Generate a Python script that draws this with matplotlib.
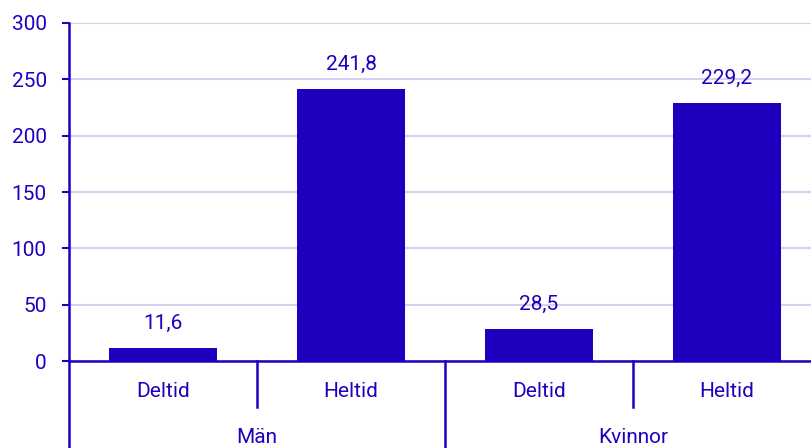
import matplotlib.pyplot as plt
from matplotlib.lines import Line2D

plt.rcParams['font.family'] = ['Roboto', 'DejaVu Sans']

groups = ['Män', 'Kvinnor']
kinds = ['Deltid', 'Heltid']
values = [11.6, 241.8, 28.5, 229.2]
labels = ['11,6', '241,8', '28,5', '229,2']
yticks = [0, 50, 100, 150, 200, 250, 300]

blue = '#2000BE'
grid = '#D4D0F0'
fs = 15

fig = plt.figure(figsize=(8.11, 4.48), dpi=100)
# axes reaches a bit beyond the right edge, like the reference
ax = fig.add_axes([69/811, 87/448, 752/811, 338/448])

x = range(len(values))
ax.bar(x, values, width=0.575, color=blue, zorder=3)
for i, (v, t) in enumerate(zip(values, labels)):
    ax.annotate(t, (i, v), xytext=(0, 17.5), textcoords='offset points',
                ha='center', va='center', color=blue, fontsize=fs)

ax.set_xlim(-0.5, len(values) - 0.5)
ax.set_ylim(0, 300)
ax.set_yticks(yticks)
ax.set_yticklabels([str(t) for t in yticks])
ax.yaxis.grid(True, color=grid, lw=1.5, zorder=0)
ax.tick_params(axis='y', length=5, width=1.5, color=blue, labelcolor=blue,
               labelsize=fs, pad=11)
ax.set_xticks([])
for s in ['top', 'right']:
    ax.spines[s].set_visible(False)
for s in ['left', 'bottom']:
    ax.spines[s].set_color(blue)
    ax.spines[s].set_linewidth(1.8)

# two-level category axis
tr = ax.get_xaxis_transform()
for i in range(len(values)):
    ax.text(i, -0.09, kinds[i % 2], transform=tr, ha='center', va='center',
            color=blue, fontsize=fs)
for j, g in enumerate(groups):
    ax.text(2*j + 0.5, -0.225, g, transform=tr, ha='center', va='center',
            color=blue, fontsize=fs)
for b in [0.5, 2.5]:
    ax.add_line(Line2D([b, b], [0, -0.135], transform=tr, color=blue,
                       lw=1.8, clip_on=False))
for b in [-0.5, 1.5, 3.5]:
    ax.add_line(Line2D([b, b], [0, -0.26], transform=tr, color=blue,
                       lw=1.8, clip_on=False))

fig.savefig('out.png', dpi=100)
